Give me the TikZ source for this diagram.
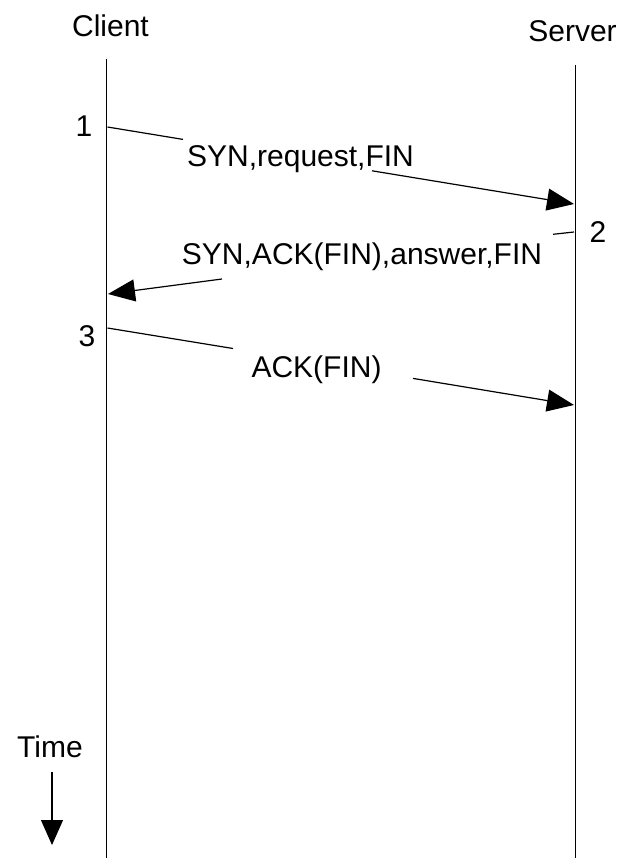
\documentclass[tikz,border=0pt]{standalone}
\usepackage{fontspec}
\setmainfont{Liberation Sans}
\usetikzlibrary{arrows.meta}
\begin{document}
\begin{tikzpicture}[x=1pt,y=-1pt,
  lbl/.style={font=\fontsize{30}{34}\selectfont, inner sep=0pt, anchor=base},
  life/.style={line width=1.3pt},
  msg/.style={line width=1.2pt},
  tip/.style={-{Triangle[length=27pt,width=22pt]}}]
\useasboundingbox (0,0) rectangle (621,858);
% headers
\node[lbl] (client) at (110.5,37) {Client};
\node[lbl] (server) at (572.5,42) {Server};
% lifelines
\coordinate (ctop) at (106.5,59);
\coordinate (cbot) at (106.5,858);
\coordinate (stop) at (575.5,65);
\coordinate (sbot) at (575.5,858);
\draw[life] (ctop) -- (cbot);
\draw[life] (stop) -- (sbot);
% step numbers
\node[lbl] (n1) at (84,137) {1};
\node[lbl] (n2) at (598,243) {2};
\node[lbl] (n3) at (87,346) {3};
% message 1
\coordinate (m1s) at (107.5,127);
\coordinate (m1a) at (183,139.4);
\coordinate (m1b) at (372,170.8);
\coordinate (m1e) at (574,204);
\draw[msg] (m1s) -- (m1a);
\draw[msg,tip] (m1b) -- (m1e);
\node[lbl] (l1) at (300.5,167) {SYN,request,FIN};
% message 2
\coordinate (m2s) at (574,232);
\coordinate (m2a) at (553,234.3);
\coordinate (m2b) at (222,279);
\coordinate (m2e) at (108,294);
\draw[msg] (m2s) -- (m2a);
\draw[msg,tip] (m2b) -- (m2e);
\node[lbl] (l2) at (362,265) {SYN,ACK(FIN),answer,FIN};
% message 3
\coordinate (m3s) at (107.5,328);
\coordinate (m3a) at (233,348.5);
\coordinate (m3b) at (413,378.4);
\coordinate (m3e) at (574,405);
\draw[msg] (m3s) -- (m3a);
\draw[msg,tip] (m3b) -- (m3e);
\node[lbl] (l3) at (316.5,377) {ACK(FIN)};
% time
\node[lbl] (time) at (50,757) {Time};
\coordinate (tstart) at (52,772);
\coordinate (tend) at (52,845);
\draw[msg,-{Triangle[length=25pt,width=22pt]}] (tstart) -- (tend);
\end{tikzpicture}
\end{document}
